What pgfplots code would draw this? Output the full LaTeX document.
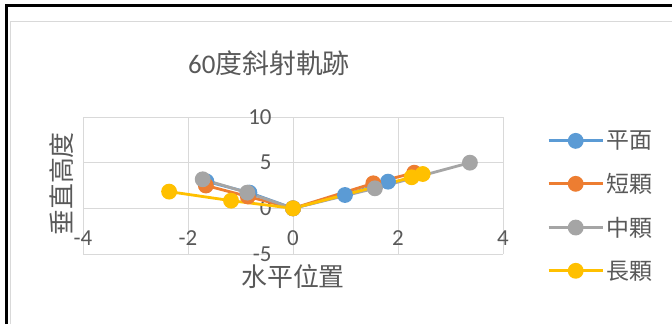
\documentclass[border=0pt]{standalone}
\usepackage{fontspec}
\setmainfont{Carlito}
\newfontfamily\cjk{Noto Sans CJK TC}
\usepackage{pgfplots}
\pgfplotsset{compat=1.18}
\definecolor{sA}{HTML}{5B9BD5}
\definecolor{sB}{HTML}{ED7D31}
\definecolor{sC}{HTML}{A5A5A5}
\definecolor{sD}{HTML}{FFC000}
\definecolor{txt}{HTML}{595959}
\definecolor{grd}{HTML}{D9D9D9}
\begin{document}
\begin{tikzpicture}[x=1bp,y=1bp]
\useasboundingbox (0,0) rectangle (672,324);
\fill[white] (0,0) rectangle (672,324);
\draw[black, line width=3bp] (6,0) -- (6,318.5) -- (672,318.5);
\draw[grd, line width=1bp] (10.5,0) -- (10.5,302) -- (672,302);
\node[text=txt, font=\fontsize{27}{32}\selectfont] at (269,261) {60{\cjk 度斜射軌跡}};
\begin{axis}[
  at={(83bp,70bp)}, anchor=south west, scale only axis,
  width=420bp, height=137bp,
  xmin=-4, xmax=4, ymin=-5, ymax=10,
  xtick={-4,-2,0,2,4}, ytick={-5,0,5,10},
  axis x line=middle, axis y line=middle,
  hide obscured x ticks=false, hide obscured y ticks=false,
  axis line style={grd, line width=1bp, -},
  grid=major, grid style={grd, line width=1bp},
  major tick length=0pt,
  /pgf/number format/assume math mode=true,
  tick label style={text=txt, font=\fontsize{23}{27}\selectfont},
  xticklabel style={anchor=north, yshift=-19bp},
  yticklabel style={anchor=east, xshift=-18bp},
  xlabel={\cjk 水平位置}, ylabel={\cjk 垂直高度},
  xlabel style={at={(axis description cs:0.5,-0.165)}, anchor=center, text=txt, font=\fontsize{26}{30}\selectfont},
  ylabel style={at={(axis description cs:-0.052,0.511)}, anchor=center, rotate=90, text=txt, font=\fontsize{26}{30}\selectfont},
  legend style={at={(axis description cs:1.105,0.912)}, anchor=north west, draw=none, fill=none,
    font=\cjk\fontsize{23}{28}\selectfont, text=txt, row sep=19bp, inner sep=0pt},
  legend cell align=left,
  legend image code/.code={\draw[mark repeat=2, mark phase=2, #1] plot coordinates {(0bp,0bp) (27bp,0bp) (54bp,0bp)};},
  every axis plot/.append style={line width=2.8bp, mark=*, mark size=6.5bp},
  clip=false,
]
\addplot[sA, mark options={fill=sA, draw=sA}] coordinates {(-1.65,2.95) (-0.83,1.72) (0,0) (0.99,1.46) (1.81,2.92)};
\addlegendentry{平面}
\addplot[sB, mark options={fill=sB, draw=sB}] coordinates {(-1.66,2.5) (-0.86,1.3) (0,0) (1.53,2.74) (2.31,3.9)};
\addlegendentry{短顆}
\addplot[sC, mark options={fill=sC, draw=sC}] coordinates {(-1.72,3.18) (-0.87,1.72) (0,0) (1.56,2.19) (3.37,5.0)};
\addlegendentry{中顆}
\addplot[sD, mark options={fill=sD, draw=sD}] coordinates {(-2.36,1.83) (-1.18,0.84) (0,0) (2.26,3.4) (2.47,3.76)};
\addlegendentry{長顆}
\end{axis}
\end{tikzpicture}
\end{document}
